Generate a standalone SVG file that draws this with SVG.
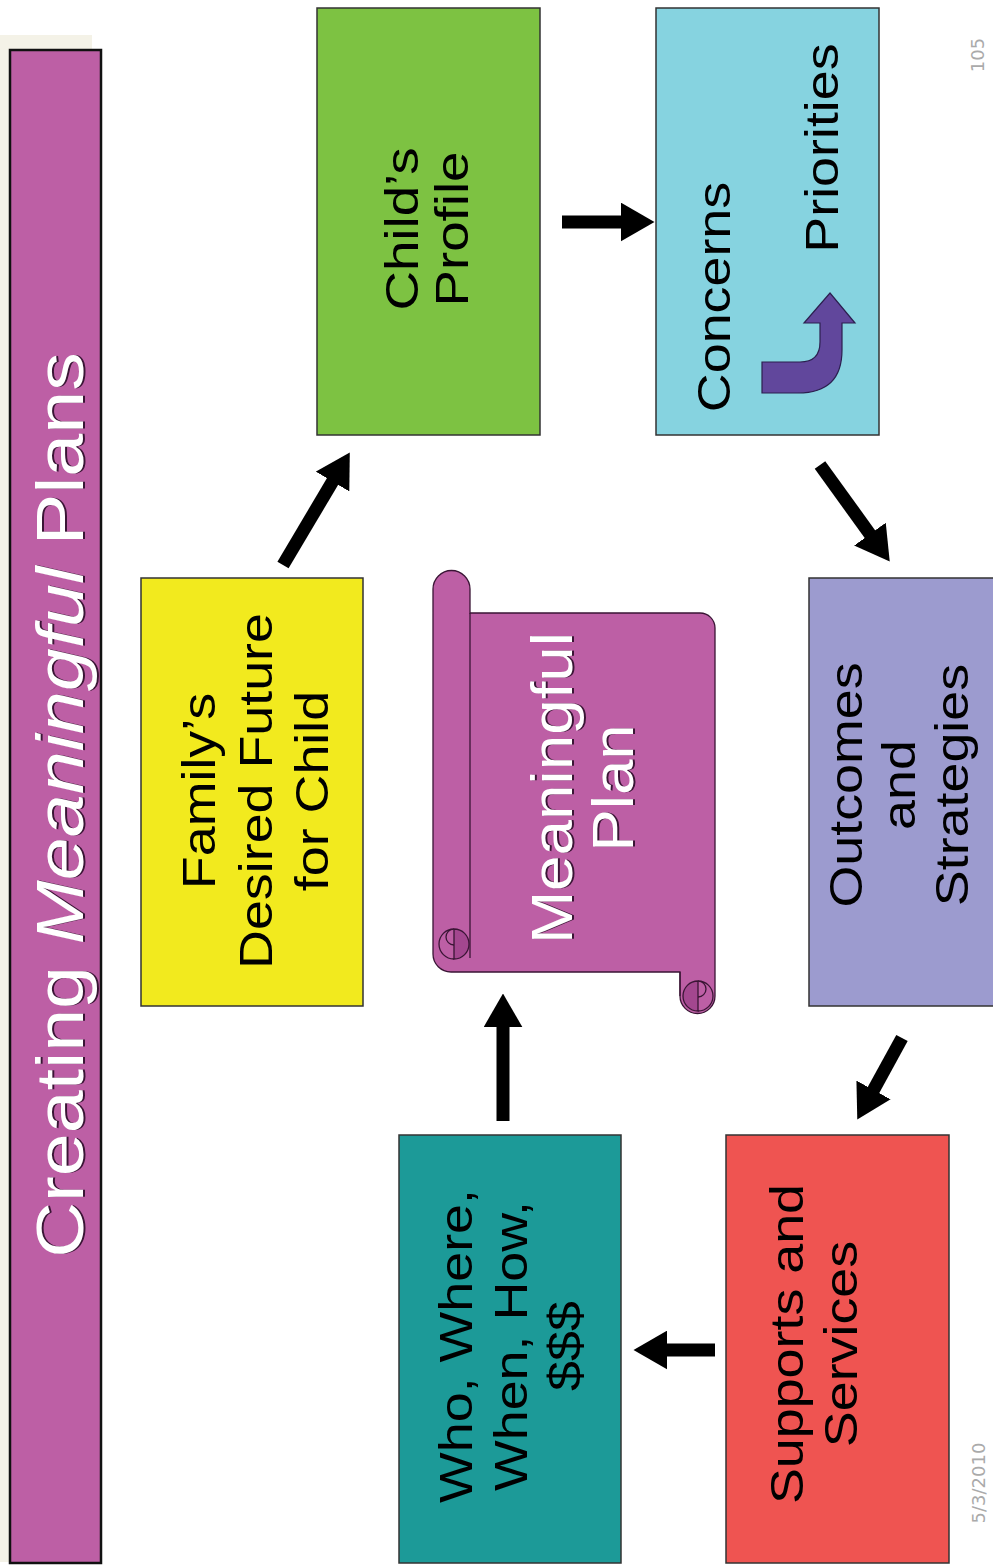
<svg xmlns="http://www.w3.org/2000/svg" width="993" height="1566" viewBox="0 0 993 1566">
<defs>
<style>
.box{stroke:#333;stroke-width:1.5}
.t{font-family:"Liberation Sans",Arial,sans-serif;font-size:46px;fill:#000;text-anchor:middle}
.w{fill:#fff}
.sh{fill:#3a1535}
.ft{font-family:"DejaVu Sans",sans-serif;font-size:18px;fill:#aaa;text-anchor:middle}
.arr{stroke:#000;stroke-width:13;fill:none;marker-end:url(#ah)}
.sc{stroke:#3a1535;stroke-width:1.3}
</style>
<marker id="ah" viewBox="0 0 26 30" markerWidth="2.6" markerHeight="3" refX="1" refY="15" orient="auto" markerUnits="strokeWidth">
<path d="M0,0 L26,15 L0,30 Z" fill="#000"/>
</marker>
</defs>
<rect width="993" height="1566" fill="#fff"/>
<rect x="0" y="35" width="92" height="1527" fill="#f4f2e7"/>

<g id="title">
<rect x="10" y="50" width="91" height="1513" fill="#bd5fa5" stroke="#111" stroke-width="2.5"/>
<g transform="translate(0,805) rotate(-90) scale(1.17,1)">
<text class="t sh" x="0" y="85" style="font-size:66px">Creating <tspan font-style="italic">Meaningful</tspan> Plans</text>
<text class="t w" x="0" y="83" style="font-size:66px">Creating <tspan font-style="italic">Meaningful</tspan> Plans</text>
</g>
</g>

<g id="childs-profile">
<rect class="box" x="317" y="8" width="223" height="427" fill="#7dc242"/>
<g transform="translate(0,229) rotate(-90) scale(1.19,1)">
<text class="t" x="0" y="418">Child’s</text>
<text class="t" x="0" y="468">Profile</text>
</g>
</g>

<g id="concerns-priorities">
<rect class="box" x="656" y="8" width="223" height="427" fill="#86d3e0"/>
<g transform="translate(0,297) rotate(-90) scale(1.17,1)">
<text class="t" x="0" y="730">Concerns</text>
</g>
<g transform="translate(0,148) rotate(-90) scale(1.17,1)">
<text class="t" x="0" y="838">Priorities</text>
</g>
<path d="M762,362 L800,362 Q820,362 820,342 L820,323 L804,323 L830,293 L855,323 L842,323 L842,350 Q842,393 798,393 L762,393 Z" fill="#61479c" stroke="#2c1f4f" stroke-width="1.2"/>
</g>

<g id="family-future">
<rect class="box" x="141" y="578" width="222" height="428" fill="#f2ea1e"/>
<g transform="translate(0,791) rotate(-90) scale(1.17,1)">
<text class="t" x="0" y="215">Family’s</text>
<text class="t" x="0" y="272">Desired Future</text>
<text class="t" x="0" y="328">for Child</text>
</g>
</g>

<g id="meaningful-plan">
<path d="M451,972 A18 18 0 0 1 433,954 V589 A18.5 18.5 0 0 1 470,589 V613 H700 A15 15 0 0 1 715,628 V996 A17.5 17.5 0 0 1 680,996 V972 Z" fill="#bd5fa5" class="sc"/>
<path d="M470,613 V958" fill="none" class="sc"/>
<path d="M454,929 A15 15 0 0 1 454,959 Z" fill="#a3478f" class="sc"/>
<path d="M454,959 A15 15 0 0 1 439,944 A15 15 0 0 1 454,929 M454,929 A8 8 0 0 0 454,945" fill="none" class="sc"/>
<path d="M680,972 V996" fill="none" class="sc"/>
<path d="M698,981 A15 15 0 0 0 698,1011 Z" fill="#a3478f" class="sc"/>
<path d="M698,1011 A15 15 0 0 0 713,996 A15 15 0 0 0 698,981 M698,981 A8 8 0 0 1 698,997" fill="none" class="sc"/>
<g transform="translate(0,788) rotate(-90) scale(1.1,1)">
<text class="t sh" x="0" y="574" style="font-size:58px">Meaningful</text>
<text class="t w" x="0" y="572" style="font-size:58px">Meaningful</text>
<text class="t sh" x="0" y="635" style="font-size:58px">Plan</text>
<text class="t w" x="0" y="633" style="font-size:58px">Plan</text>
</g>
</g>

<g id="outcomes-strategies">
<rect class="box" x="809" y="578" width="190" height="428" fill="#9c9bcf"/>
<g transform="translate(0,785) rotate(-90) scale(1.17,1)">
<text class="t" x="0" y="862">Outcomes</text>
<text class="t" x="0" y="915">and</text>
<text class="t" x="0" y="968">Strategies</text>
</g>
</g>

<g id="supports-services">
<rect class="box" x="726" y="1135" width="223" height="428" fill="#ef5451"/>
<g transform="translate(0,1344) rotate(-90) scale(1.17,1)">
<text class="t" x="0" y="803">Supports and</text>
<text class="t" x="0" y="857">Services</text>
</g>
</g>

<g id="who-where">
<rect class="box" x="399" y="1135" width="222" height="428" fill="#1c9a98"/>
<g transform="translate(0,1346) rotate(-90) scale(1.17,1)">
<text class="t" x="0" y="472">Who, Where,</text>
<text class="t" x="0" y="527">When, How,</text>
<text class="t" x="0" y="581">$$$</text>
</g>
</g>

<g id="connectors">
<line class="arr" x1="283" y1="565" x2="333.2" y2="480.4"/>
<line class="arr" x1="562" y1="222" x2="622" y2="222"/>
<line class="arr" x1="820" y1="465" x2="870.7" y2="535.2"/>
<line class="arr" x1="902" y1="1038" x2="872.9" y2="1091.1"/>
<line class="arr" x1="715" y1="1350" x2="666" y2="1350"/>
<line class="arr" x1="503" y1="1121" x2="503" y2="1026"/>
</g>

<g id="footer">
<text class="ft" transform="translate(984,55) rotate(-90)">105</text>
<text class="ft" transform="translate(985,1483) rotate(-90)">5/3/2010</text>
</g>
</svg>
